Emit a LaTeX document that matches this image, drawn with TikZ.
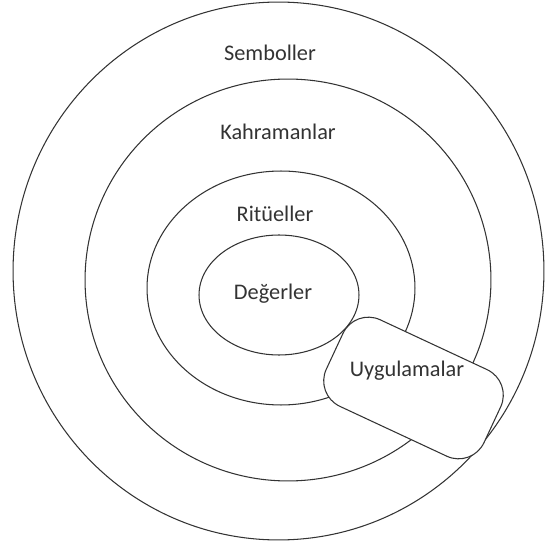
\documentclass[tikz,border=0pt]{standalone}
\usepackage{fontspec}
\setmainfont{Carlito}
\usepackage{tikz}
\usetikzlibrary{shapes.geometric}

\begin{document}
\begin{tikzpicture}[
    x=0.02cm,
    y=-0.02cm,
    ring/.style={draw=black!80, ellipse, line width=0.6pt, inner sep=0pt},
    pill/.style={draw=black!80, fill=white, line width=0.6pt, rounded corners=0.56cm, inner sep=0pt},
    note/.style={align=center, text=black!80, font=\fontsize{12.7}{15}\selectfont}
]
\useasboundingbox (0,0) rectangle (545,544);

\node[ring, minimum width=10.62cm, minimum height=10.76cm] (semb) at (278.5,271) {};
\node[ring, minimum width=8.12cm, minimum height=8.04cm] (kahr) at (288,280) {};
\node[ring, minimum width=5.36cm, minimum height=4.68cm] (ritu) at (281,288) {};
\node[ring, minimum width=3.2cm, minimum height=2.4cm] (deger) at (279,295) {};

\node[note] (sembtxt) at (270,53) {Semboller};
\node[note] (kahrtxt) at (278,132) {Kahramanlar};
\node[note] (ritutxt) at (275,214) {Ritüeller};
\node[note] (degertxt) at (273,294) {Değerler};

\node[pill, rotate=-25, minimum width=3.48cm, minimum height=1.91cm] (uyg) at (413.5,388) {};
\node[note] (uygtxt) at (407,371) {Uygulamalar};
\end{tikzpicture}
\end{document}
